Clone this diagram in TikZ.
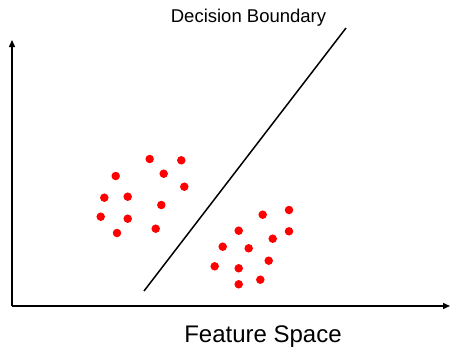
\documentclass[tikz,border=0pt]{standalone}
\usepackage{fontspec}
\setmainfont{Liberation Sans}
\usetikzlibrary{arrows.meta}
\begin{document}
\begin{tikzpicture}[x=1pt,y=-1pt,
  axis/.style={line width=1.4pt,-{Triangle[length=7pt,width=6pt]}},
  pt/.style={circle,fill=red,inner sep=0pt,minimum size=8.5pt},
  boundary/.style={line width=1.5pt}]
\useasboundingbox (0,0) rectangle (450,351);
% axes
\coordinate (o) at (12,306);
\coordinate (ytop) at (12,40);
\coordinate (xend) at (450,306);
\draw[axis] (o) -- (ytop);
\draw[axis] (o) -- (xend);
% decision boundary
\coordinate (b1) at (144,291);
\coordinate (b2) at (346,28);
\draw[boundary] (b1) -- (b2);
\node (lbl) at (248.5,18) {\fontsize{18.5}{20}\selectfont Decision Boundary};
\node (xlbl) at (263,337) {\fontsize{24}{26}\selectfont Feature Space};
% first class
\foreach \p [count=\i] in {(149.7,159),(181.3,160.3),(115.7,176),(163.7,173.7),(184.3,186.7),(104.3,197.7),(127.7,196.7),(161.3,205),(100.7,216.7),(127.7,218.7),(117,233),(155.7,228.7)}
  \node[pt] (a\i) at \p {};
% second class
\foreach \p [count=\i] in {(262.7,214.7),(289,210),(238.7,230.7),(289,231.3),(272.7,238.7),(222.7,246.7),(248.7,248.3),(268.7,260.7),(214.7,266.3),(238.7,268.3),(260.3,279.7),(238.7,284.3)}
  \node[pt] (c\i) at \p {};
\end{tikzpicture}
\end{document}
